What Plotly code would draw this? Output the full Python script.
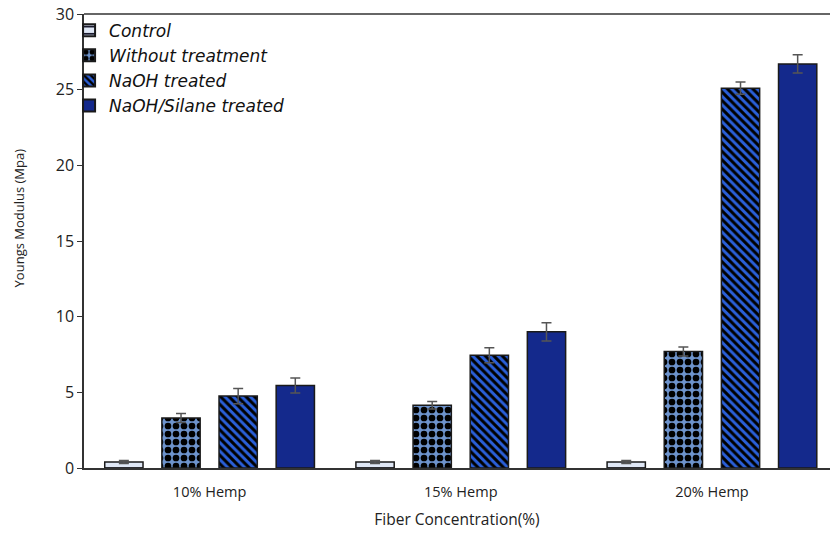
import plotly.graph_objects as go

# Young's modulus by hemp fibre loading and treatment
categories = ["10% Hemp", "15% Hemp", "20% Hemp"]
series_names = ["Control", "Without treatment", "NaOH treated", "NaOH/Silane treated"]
control = [0.4, 0.4, 0.4]
control_err = [0.1, 0.1, 0.1]
without_treatment = [3.3, 4.15, 7.7]
without_treatment_err = [0.3, 0.25, 0.3]
naoh = [4.75, 7.45, 25.1]
naoh_err = [0.5, 0.5, 0.4]
naoh_silane = [5.45, 9.0, 26.7]
naoh_silane_err = [0.5, 0.6, 0.6]
y_ticks = [0, 5, 10, 15, 20, 25, 30]

styles = [
    dict(color="#dfe7f5", pattern=dict(shape="-", fgcolor="#1a1a2e", bgcolor="#dfe7f5", size=9, solidity=0.25)),
    dict(color="#6d93cc", pattern=dict(shape=".", fgcolor="#000000", bgcolor="#6d93cc", size=8, solidity=0.55)),
    dict(color="#2a5fd8", pattern=dict(shape="\\", fgcolor="#000000", bgcolor="#2a5fd8", size=6, solidity=0.5)),
    dict(color="#14298c"),
]

values = [control, without_treatment, naoh, naoh_silane]
errors = [control_err, without_treatment_err, naoh_err, naoh_silane_err]

fig = go.Figure()
for name, vals, errs, st in zip(series_names, values, errors, styles):
    marker = dict(color=st["color"], line=dict(color="#1a1a1a", width=1.5))
    if "pattern" in st:
        marker["pattern"] = st["pattern"]
    fig.add_trace(go.Bar(
        x=categories, y=vals, name=name, marker=marker,
        error_y=dict(type="data", array=errs, color="#555555", thickness=1.5, width=5),
    ))

fig.update_layout(
    template="none",
    width=830, height=534,
    margin=dict(l=84, r=0, t=14, b=66),
    paper_bgcolor="white", plot_bgcolor="white",
    barmode="group", bargap=0.09, bargroupgap=0.33,
    font=dict(family="Open Sans, Lato, sans-serif", color="#222222"),
    showlegend=True,
    legend=dict(
        x=-0.02, y=1.003, xanchor="left", yanchor="top",
        font=dict(size=17, family="DejaVu Sans, sans-serif", style="italic", color="#111111"),
        tracegroupgap=0, itemsizing="constant", bgcolor="rgba(0,0,0,0)",
    ),
    shapes=[dict(type="line", xref="paper", yref="paper", x0=0, x1=1, y0=1, y1=1,
                 line=dict(color="#333333", width=1.5))],
    annotations=[dict(text="Youngs Modulus (Mpa)", xref="paper", yref="paper",
                      x=-0.087, y=0.55, xanchor="center", yanchor="middle",
                      textangle=-90, showarrow=False, font=dict(size=13))],
)
fig.update_xaxes(
    type="category", range=[-0.5, 2.47],
    showline=True, linecolor="#333333", linewidth=1.5, mirror=False,
    ticks="", showgrid=False, zeroline=False, tickfont=dict(size=14.5), ticklabelstandoff=10,
    title=dict(text="Fiber Concentration(%)", font=dict(size=15.5), standoff=14),
)
fig.update_yaxes(
    range=[0, 30], tickvals=y_ticks,
    showline=True, linecolor="#333333", linewidth=1.5, mirror=False,
    ticks="outside", ticklen=5, tickcolor="#333333",
    showgrid=False, zeroline=False, tickfont=dict(size=16),
)

fig.write_html("out.html", config={"displayModeBar": False})
